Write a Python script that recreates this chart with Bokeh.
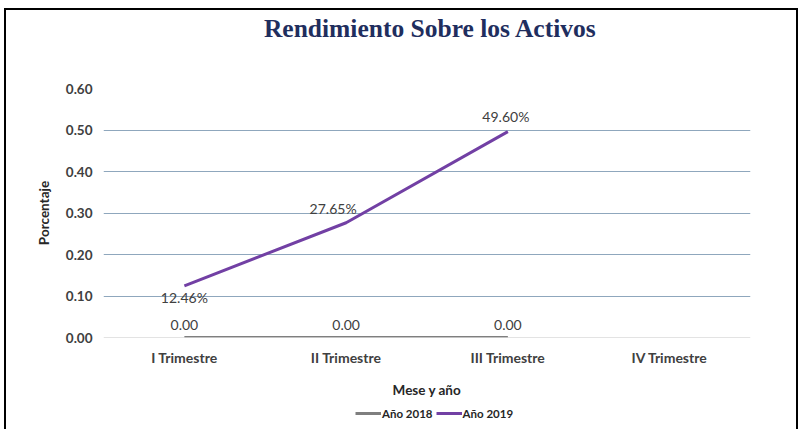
from bokeh.plotting import figure
from bokeh.layouts import column
from bokeh.models import (FactorRange, Range1d, LabelSet, Label, Legend, LegendItem,
                          Span, ColumnDataSource, FixedTicker, NumeralTickFormatter)
from bokeh.core.properties import value
from bokeh.embed import file_html
from bokeh.resources import INLINE

# ---- data ----
title_text = "Rendimiento Sobre los Activos"
categories = ["I Trimestre", "II Trimestre", "III Trimestre", "IV Trimestre"]
cats_2018 = ["I Trimestre", "II Trimestre", "III Trimestre"]
values_2018 = [0.0, 0.0, 0.0]
labels_2018 = ["0.00", "0.00", "0.00"]
cats_2019 = ["I Trimestre", "II Trimestre", "III Trimestre"]
values_2019 = [0.1246, 0.2765, 0.4960]
labels_2019 = ["12.46%", "27.65%", "49.60%"]
series_names = ["Año 2018", "Año 2019"]
y_ticks = [0.0, 0.1, 0.2, 0.3, 0.4, 0.5, 0.6]

# label placement (style)
off_x_2019 = [0, -13, -2]
off_y_2019 = [-12, 14, 15]

FONT = "Lato"
TXT = "#404040"
C2018 = "#7F7F7F"
C2019 = "#7240A4"
W = 790
FW = 647
ML, MR = 97, 46


def strip(height, x_range, y_range):
    f = figure(width=W, height=height, x_range=x_range, y_range=y_range,
               output_backend="svg", toolbar_location=None,
               x_axis_location=None, y_axis_location=None,
               min_border_left=ML, min_border_right=MR,
               min_border_top=0, min_border_bottom=0)
    f.grid.visible = False
    f.outline_line_color = None
    f.background_fill_color = "white"
    f.border_fill_color = "white"
    return f


# ---- title strip ----
p0 = strip(50, Range1d(0, FW), Range1d(0, 50))
p0.add_layout(Label(x=327, y=32, text=title_text,
                    text_align="center", text_baseline="middle",
                    text_font="Liberation Serif", text_font_style="bold",
                    text_font_size="25.5px", text_color="#1F2E5E"))

# ---- main chart ----
p = figure(x_range=FactorRange(*categories), y_range=Range1d(0, 0.6),
           frame_width=FW, frame_height=249,
           output_backend="svg", toolbar_location=None,
           min_border_left=ML, min_border_right=MR, min_border_top=28,
           min_border_bottom=68)
p.outline_line_color = None
p.background_fill_color = "white"
p.border_fill_color = "white"

p.xgrid.grid_line_color = None
p.ygrid.ticker = FixedTicker(ticks=y_ticks[1:])
p.ygrid.grid_line_color = "#8FA7BD"
p.ygrid.grid_line_width = 1
p.add_layout(Span(location=0, dimension="width", line_color="#C8C8C8", line_width=1))

p.yaxis.ticker = FixedTicker(ticks=y_ticks)
p.yaxis.formatter = NumeralTickFormatter(format="0.00")
p.yaxis.axis_line_color = None
p.yaxis.major_tick_line_color = None
p.yaxis.minor_tick_line_color = None
p.yaxis.major_label_standoff = 5
p.yaxis.major_label_text_font = FONT
p.yaxis.major_label_text_font_style = "bold"
p.yaxis.major_label_text_font_size = "13.5px"
p.yaxis.major_label_text_color = TXT
p.yaxis.axis_label = "Porcentaje"
p.yaxis.axis_label_text_font = FONT
p.yaxis.axis_label_text_font_style = "bold"
p.yaxis.axis_label_text_font_size = "13.5px"
p.yaxis.axis_label_text_color = "#262626"
p.yaxis.axis_label_standoff = 11

p.xaxis.axis_line_color = None
p.xaxis.major_tick_line_color = None
p.xaxis.minor_tick_line_color = None
p.xaxis.major_label_standoff = 5
p.xaxis.major_label_text_font = FONT
p.xaxis.major_label_text_font_style = "bold"
p.xaxis.major_label_text_font_size = "14px"
p.xaxis.major_label_text_color = TXT
p.xaxis.axis_label = "Mese y año"
p.xaxis.axis_label_text_font = FONT
p.xaxis.axis_label_text_font_style = "bold"
p.xaxis.axis_label_text_font_size = "13.5px"
p.xaxis.axis_label_text_color = "#262626"
p.xaxis.axis_label_standoff = 13

src18 = ColumnDataSource(dict(x=cats_2018, y=values_2018, t=labels_2018))
src19 = ColumnDataSource(dict(x=cats_2019, y=values_2019, t=labels_2019,
                              ox=off_x_2019, oy=off_y_2019))
p.line("x", "y", source=src18, line_color=C2018, line_width=3)
p.line("x", "y", source=src19, line_color=C2019, line_width=3)

p.add_layout(LabelSet(x="x", y="y", text="t", source=src18, y_offset=13,
                      text_align="center", text_baseline="middle",
                      text_font=value(FONT), text_font_size=value("14px"),
                      text_color=value(TXT)))
p.add_layout(LabelSet(x="x", y="y", text="t", source=src19, x_offset="ox", y_offset="oy",
                      text_align="center", text_baseline="middle",
                      text_font=value(FONT), text_font_size=value("14px"),
                      text_color=value(TXT)))

# ---- legend strip (series drawn out of its view, only the key shows) ----
p2 = strip(24, FactorRange(*categories), Range1d(5, 6))
g18 = p2.line("x", "y", source=src18, line_color=C2018, line_width=3)
g19 = p2.line("x", "y", source=src19, line_color=C2019, line_width=3)
legend = Legend(items=[LegendItem(label=series_names[0], renderers=[g18]),
                       LegendItem(label=series_names[1], renderers=[g19])],
                orientation="horizontal", location=(252, 9),
                border_line_color=None, background_fill_alpha=0,
                padding=0, margin=0, spacing=3, label_standoff=1,
                glyph_width=26, glyph_height=14, label_height=14,
                label_text_font=FONT, label_text_font_style="bold",
                label_text_font_size="11.5px", label_text_color="#262626")
p2.add_layout(legend, "center")

layout = column(p0, p, p2, spacing=0,
                styles={"border-left": "2px solid black", "border-top": "2px solid black",
                        "border-right": "2px solid black", "margin-left": "4px",
                        "margin-top": "8px", "background-color": "white"})

open("out.html", "w").write(file_html(layout, INLINE))
